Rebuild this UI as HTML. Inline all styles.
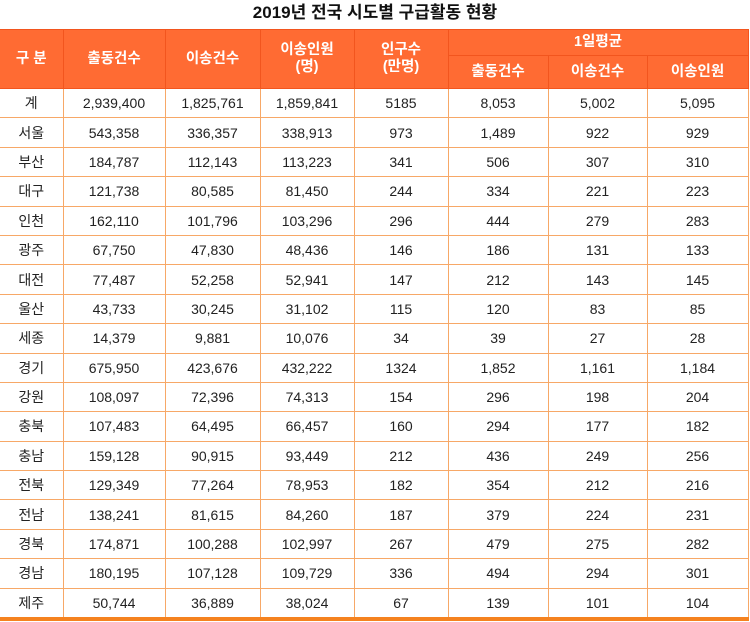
<!DOCTYPE html>
<html><head><meta charset="utf-8"><style>
body{margin:0;width:750px;height:622px;background:#fff;overflow:hidden;font-family:"Liberation Sans","Noto Sans CJK KR",sans-serif;}
.t{position:absolute;top:0;left:0;width:750px;text-align:center;font-size:17px;font-weight:bold;line-height:26px;color:#111;}
table{position:absolute;left:0;top:29px;border-collapse:collapse;table-layout:fixed;width:748px;}
th{background:#FF6B33;color:#fff;font-weight:bold;font-size:14.5px;border:1px solid #F2551E;padding:0;line-height:17px;}
td{border:1px solid #F7A867;text-align:center;font-size:14px;color:#222;height:28.4px;padding:0;}
tr.last td{border-bottom:4px solid #F5821F;}
tr td:first-child,tr th:first-child{border-left:none;}
</style></head><body>
<div class="t">2019년 전국 시도별 구급활동 현황</div>
<table>
<colgroup><col style="width:63px"><col style="width:102px"><col style="width:95px"><col style="width:94px"><col style="width:94px"><col style="width:100px"><col style="width:99px"><col style="width:101px"></colgroup>
<tr style="height:26px"><th rowspan="2">구 분</th><th rowspan="2">출동건수</th><th rowspan="2">이송건수</th><th rowspan="2">이송인원<br>(명)</th><th rowspan="2">인구수<br>(만명)</th><th colspan="3">1일평균</th></tr>
<tr style="height:33px"><th>출동건수</th><th>이송건수</th><th>이송인원</th></tr>
<tr><td>계</td><td>2,939,400</td><td>1,825,761</td><td>1,859,841</td><td>5185</td><td>8,053</td><td>5,002</td><td>5,095</td></tr>
<tr><td>서울</td><td>543,358</td><td>336,357</td><td>338,913</td><td>973</td><td>1,489</td><td>922</td><td>929</td></tr>
<tr><td>부산</td><td>184,787</td><td>112,143</td><td>113,223</td><td>341</td><td>506</td><td>307</td><td>310</td></tr>
<tr><td>대구</td><td>121,738</td><td>80,585</td><td>81,450</td><td>244</td><td>334</td><td>221</td><td>223</td></tr>
<tr><td>인천</td><td>162,110</td><td>101,796</td><td>103,296</td><td>296</td><td>444</td><td>279</td><td>283</td></tr>
<tr><td>광주</td><td>67,750</td><td>47,830</td><td>48,436</td><td>146</td><td>186</td><td>131</td><td>133</td></tr>
<tr><td>대전</td><td>77,487</td><td>52,258</td><td>52,941</td><td>147</td><td>212</td><td>143</td><td>145</td></tr>
<tr><td>울산</td><td>43,733</td><td>30,245</td><td>31,102</td><td>115</td><td>120</td><td>83</td><td>85</td></tr>
<tr><td>세종</td><td>14,379</td><td>9,881</td><td>10,076</td><td>34</td><td>39</td><td>27</td><td>28</td></tr>
<tr><td>경기</td><td>675,950</td><td>423,676</td><td>432,222</td><td>1324</td><td>1,852</td><td>1,161</td><td>1,184</td></tr>
<tr><td>강원</td><td>108,097</td><td>72,396</td><td>74,313</td><td>154</td><td>296</td><td>198</td><td>204</td></tr>
<tr><td>충북</td><td>107,483</td><td>64,495</td><td>66,457</td><td>160</td><td>294</td><td>177</td><td>182</td></tr>
<tr><td>충남</td><td>159,128</td><td>90,915</td><td>93,449</td><td>212</td><td>436</td><td>249</td><td>256</td></tr>
<tr><td>전북</td><td>129,349</td><td>77,264</td><td>78,953</td><td>182</td><td>354</td><td>212</td><td>216</td></tr>
<tr><td>전남</td><td>138,241</td><td>81,615</td><td>84,260</td><td>187</td><td>379</td><td>224</td><td>231</td></tr>
<tr><td>경북</td><td>174,871</td><td>100,288</td><td>102,997</td><td>267</td><td>479</td><td>275</td><td>282</td></tr>
<tr><td>경남</td><td>180,195</td><td>107,128</td><td>109,729</td><td>336</td><td>494</td><td>294</td><td>301</td></tr>
<tr class="last"><td>제주</td><td>50,744</td><td>36,889</td><td>38,024</td><td>67</td><td>139</td><td>101</td><td>104</td></tr>
</table>
</body></html>
